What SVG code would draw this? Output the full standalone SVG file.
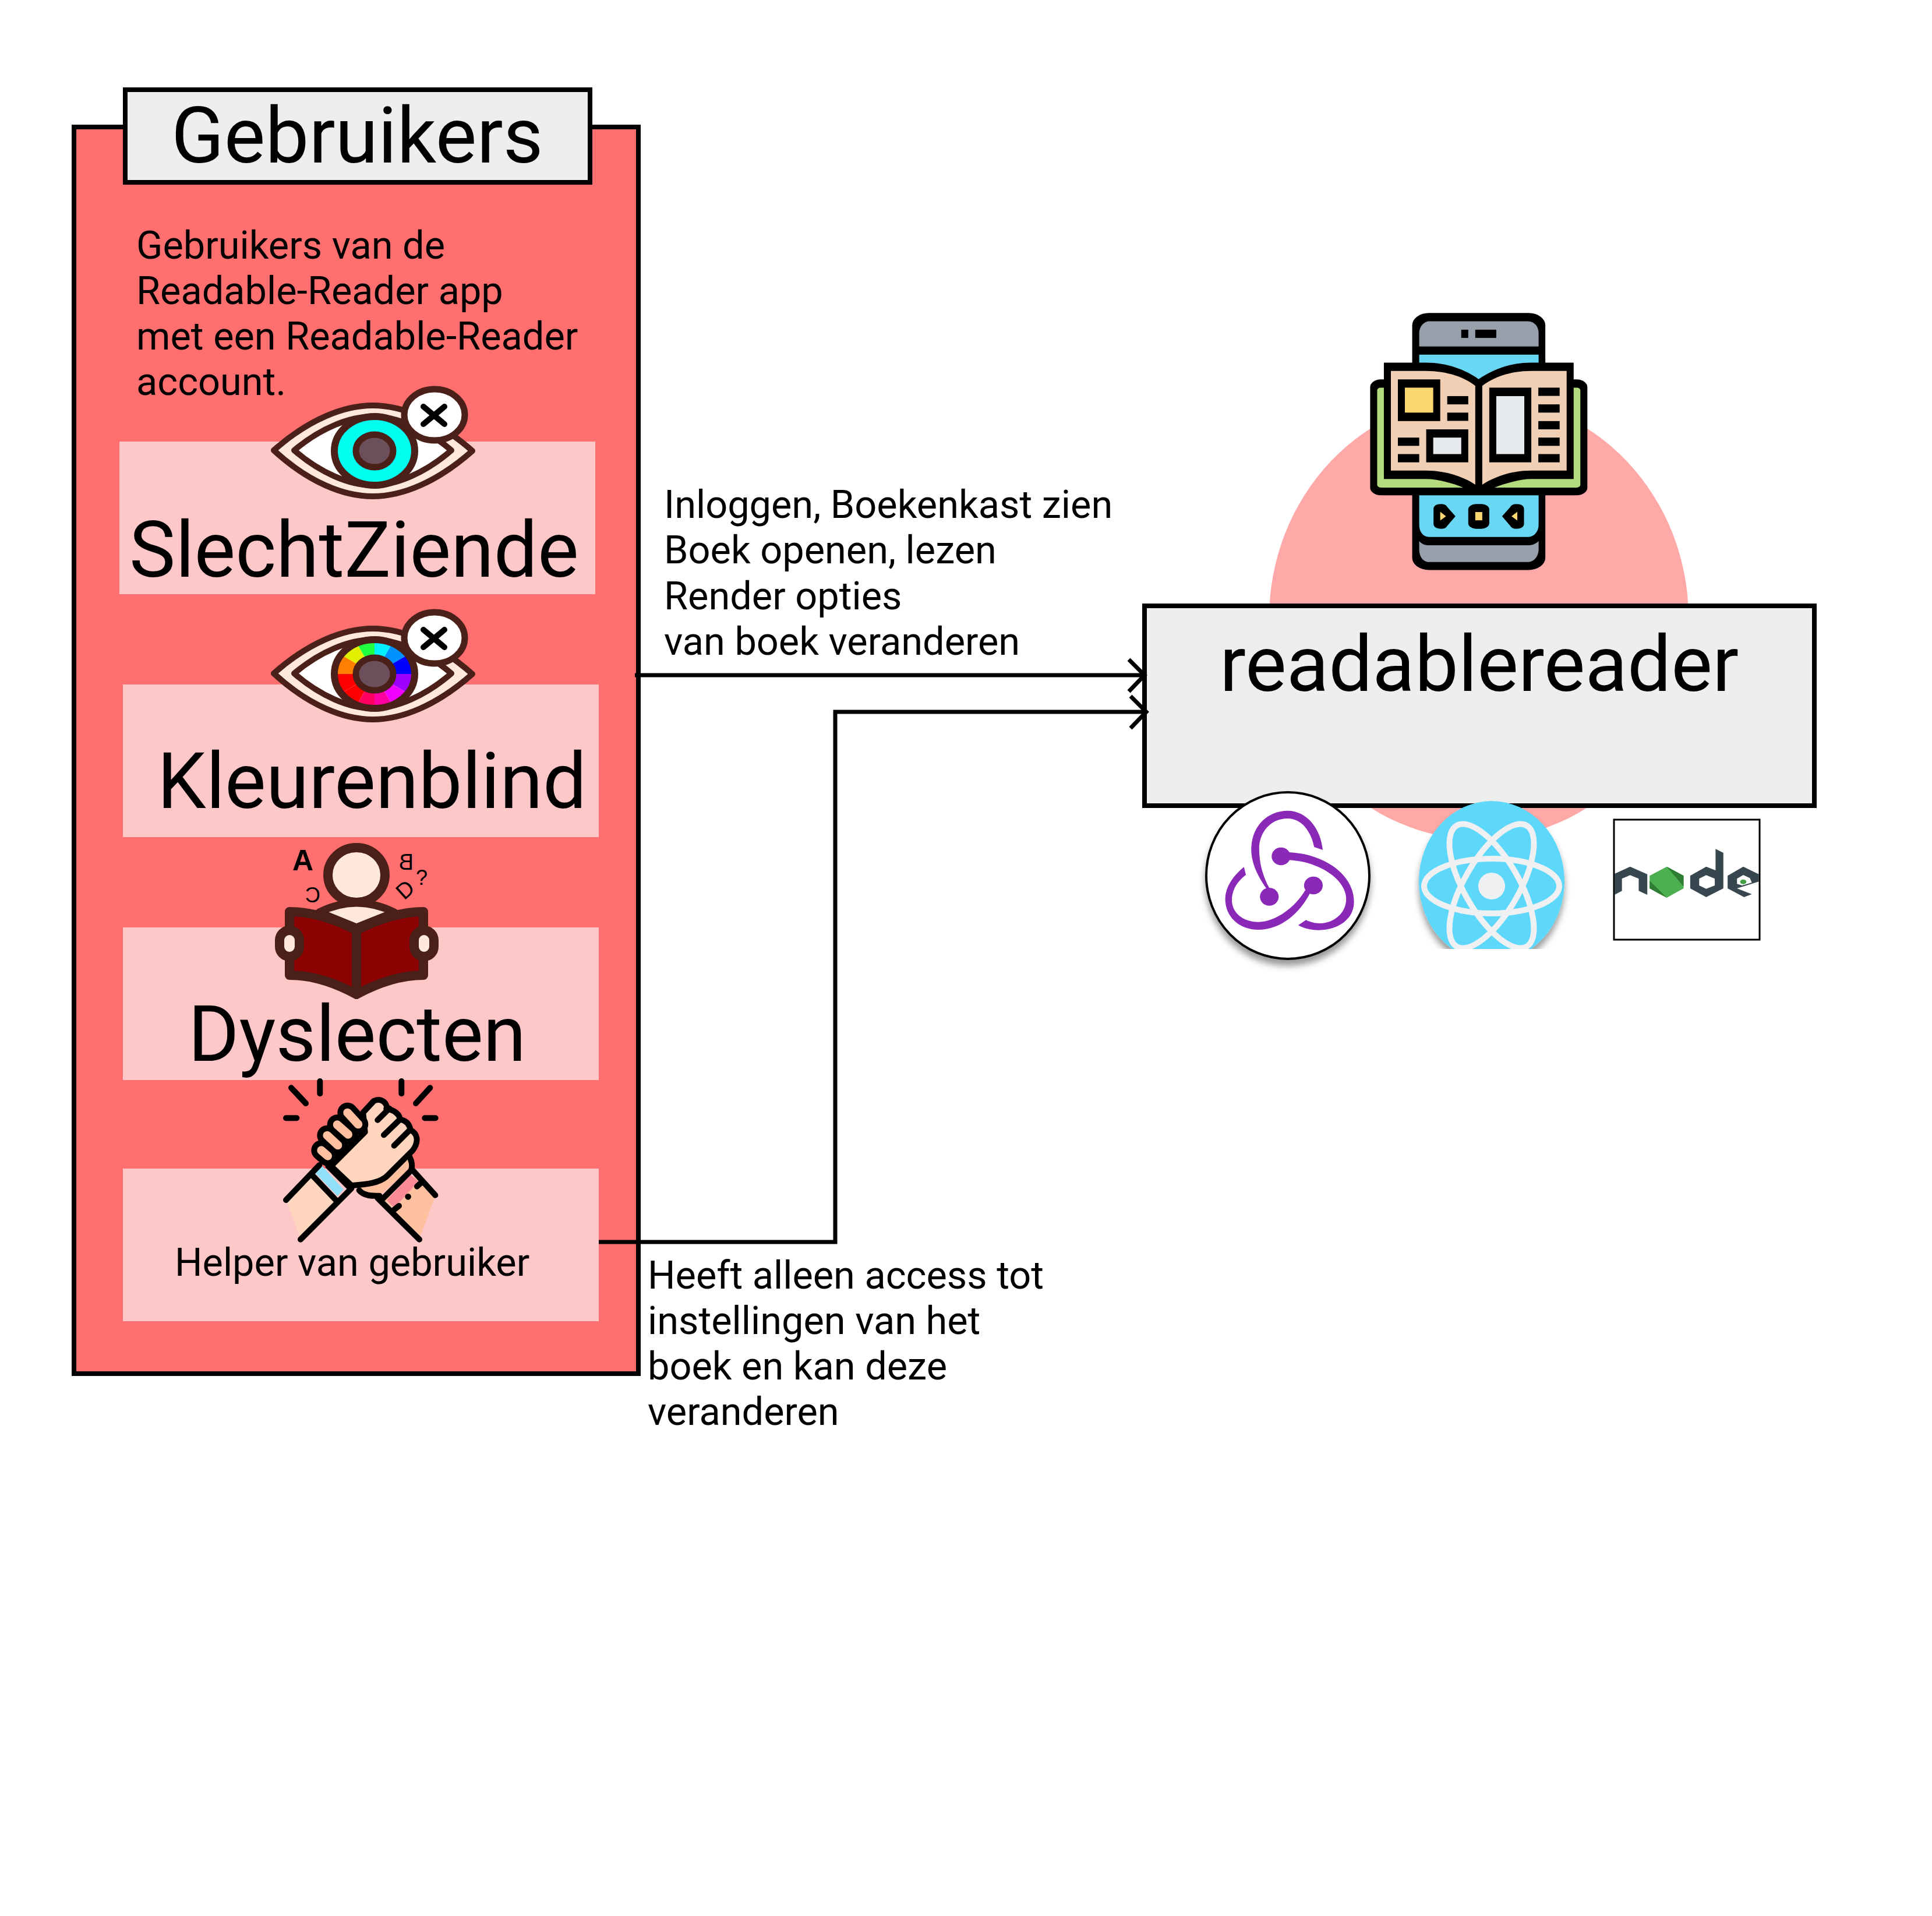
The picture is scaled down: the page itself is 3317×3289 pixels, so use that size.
<svg xmlns="http://www.w3.org/2000/svg" width="3317" height="3289" viewBox="0 0 3317 3289">
<style>
text{font-family:Roboto,"Liberation Sans",sans-serif;fill:#000}
.big{font-size:133.33px}
.body{font-size:66.67px}
.box{stroke:#000;stroke-width:8}
.pink{fill:#ffc8c8}
.conn{fill:none;stroke:#000;stroke-width:7}
.br{stroke:#4a2018;stroke-linejoin:round}
.hs{stroke:#000;stroke-width:30;stroke-linecap:round;stroke-linejoin:round;fill:none}
.k{fill:#000}
.lg{font-family:"Liberation Sans",Arial,sans-serif}
</style>
<defs>
<filter id="sh" x="-20%" y="-20%" width="140%" height="150%"><feDropShadow dx="0" dy="10" stdDeviation="6" flood-color="#000" flood-opacity="0.4"/></filter>
<clipPath id="wheel"><ellipse cx="0" cy="0" rx="69" ry="59"/></clipPath>
<clipPath id="reactClip"><rect x="2400" y="1360" width="320" height="269"/></clipPath>
<g id="eyeBase">
<path class="br" stroke-width="10" fill="#ffe8dc" d="M470,773C530,720 590,696 640,696C690,696 750,720 811,774C750,828 690,852 640,852C590,852 530,828 470,773Z"/>
<path class="br" stroke-width="10" fill="#fff" d="M505,773C550,735 600,715 640,715C680,715 730,735 775,773C730,812 680,833 640,833C600,833 550,812 505,773Z"/>
</g>
<g id="eyeTop">
<ellipse class="br" cx="643" cy="774" rx="69" ry="59" fill="none" stroke-width="12"/>
<ellipse class="br" cx="643" cy="774" rx="32" ry="28" fill="#6b4f5a" stroke-width="11"/>
<ellipse class="br" cx="746" cy="712" rx="52" ry="44" fill="#fff" stroke-width="11"/>
<path d="M727,698L763,728M763,698L727,728" stroke="#000" stroke-width="10" stroke-linecap="round" fill="none"/>
</g>
</defs>
<rect width="3317" height="3289" fill="#fff"/>

<g id="gebruikers">
<rect class="box" x="127" y="218" width="969" height="2140" fill="#ff6f6f"/>
<rect class="box" x="215" y="154" width="798" height="159" fill="#eee"/>
<text class="big" x="294" y="279">Gebruikers</text>
<text class="body" x="234" y="444">Gebruikers van de</text>
<text class="body" x="234" y="522">Readable-Reader app</text>
<text class="body" x="234" y="600">met een Readable-Reader</text>
<text class="body" x="234" y="678">account.</text>
</g>

<g id="slechtziende">
<rect class="pink" x="205" y="758" width="817" height="262"/>
<text class="big" x="222" y="990">SlechtZiende</text>
<use href="#eyeBase"/>
<ellipse cx="643" cy="774" rx="69" ry="59" fill="#00ffee"/>
<use href="#eyeTop"/>
</g>

<g id="kleurenblind">
<rect class="pink" x="211" y="1175" width="817" height="262"/>
<text class="big" x="270" y="1387">Kleurenblind</text>
<use href="#eyeBase" y="383"/>
<g transform="translate(643,1157)" clip-path="url(#wheel)">
<polygon points="0,0 0,-100 50,-87" fill="#00f0ff"/>
<polygon points="0,0 50,-87 87,-50" fill="#0090ff"/>
<polygon points="0,0 87,-50 100,0" fill="#0000ff"/>
<polygon points="0,0 100,0 87,50" fill="#a000ff"/>
<polygon points="0,0 87,50 50,87" fill="#f000ff"/>
<polygon points="0,0 50,87 0,100" fill="#ff00a0"/>
<polygon points="0,0 0,100 -50,87" fill="#ff0060"/>
<polygon points="0,0 -50,87 -87,50" fill="#ff0000"/>
<polygon points="0,0 -87,50 -100,0" fill="#ff0000"/>
<polygon points="0,0 -100,0 -87,-50" fill="#ff8000"/>
<polygon points="0,0 -87,-50 -50,-87" fill="#e0f000"/>
<polygon points="0,0 -50,-87 0,-100" fill="#20ff40"/>
</g>
<use href="#eyeTop" y="383"/>
</g>

<g id="dyslecten">
<rect class="pink" x="211" y="1592" width="817" height="262"/>
<text class="big" x="323" y="1821">Dyslecten</text>
<ellipse class="br" cx="612" cy="1502" rx="49" ry="47" fill="#ffe8dc" stroke-width="16"/>
<path class="br" stroke-width="13" fill="#ffe8dc" d="M548,1566Q612,1534 677,1566L612,1592Z"/>
<path class="br" stroke-width="16" fill="#8b0000" d="M612,1597C575,1578 535,1565 497,1565L497,1674C535,1674 575,1687 612,1707Z"/>
<path class="br" stroke-width="16" fill="#8b0000" d="M612,1597C649,1578 689,1565 727,1565L727,1674C689,1674 649,1687 612,1707Z"/>
<rect class="br" x="480" y="1597" width="34" height="45" rx="17" fill="#ffe8dc" stroke-width="16"/>
<rect class="br" x="711" y="1597" width="34" height="45" rx="17" fill="#ffe8dc" stroke-width="16"/>
<text class="lg" x="502" y="1494" font-size="50" font-weight="bold">A</text>
<text class="lg" transform="translate(710,1493) scale(-1,1)" font-size="38">B</text>
<text class="lg" transform="translate(550,1549) scale(-1,1)" font-size="36">C</text>
<text class="lg" transform="translate(694,1546) rotate(-42)" font-size="38">D</text>
<text class="lg" x="714" y="1519" font-size="36">?</text>
</g>

<g id="helper">
<rect class="pink" x="211" y="2006" width="817" height="262"/>
<g transform="translate(460,1860) scale(0.3333)">
<path fill="#ffd5bd" d="M95,600L240,465L345,600L165,790Z"/>
<path fill="#ffc09f" d="M760,470L858,590L785,785L600,600Z"/>
<path fill="#ffc09f" d="M470,540C495,580 540,580 575,578L730,440L725,370L600,480Z"/>
<path fill="#8fe0f8" d="M280,425L390,545L358,580L245,462Z"/>
<path fill="#fa8a96" d="M735,470L775,505L650,640L612,600Z"/>
<path class="hs" d="M470,550C495,580 540,580 575,578M720,360C745,400 745,425 738,445"/>
<path class="hs" style="fill:#ffd5bd" d="M325,425L500,250L490,150L545,90C590,70 620,110 610,130C650,135 680,160 680,185C715,190 730,215 735,240C770,255 780,300 745,345L620,470C580,515 500,520 430,525Z"/>
<path class="hs" d="M565,188L625,128M597,265L680,185M650,320L730,240"/>
<path d="M275,344L308,373M305,267L360,318M357,212L413,262M410,150L465,210" stroke="#000" stroke-width="104" stroke-linecap="round" fill="none"/>
<path d="M275,344L308,373M305,267L360,318M357,212L413,262M410,150L465,210" stroke="#ffc09f" stroke-width="44" stroke-linecap="round" fill="none"/>
<path class="hs" d="M93,600L265,420M168,803L430,540M228,472L350,600M310,425L415,530"/>
<path class="hs" d="M862,575L740,440M780,803L565,590M590,595L735,450M650,650L675,630M768,530L790,510"/>
<circle cx="722" cy="583" r="16" class="k"/>
<path class="hs" d="M120,22L195,102M268,-12L268,52M688,-12L688,52M835,22L762,102M93,178L148,178M808,178L863,178"/>
</g>
<text class="body" x="300" y="2190">Helper van gebruiker</text>
</g>

<g id="readablereader">
<ellipse cx="2539" cy="1061" rx="360" ry="380" fill="#ffa8a8"/>
<rect class="box" x="1965" y="1040" width="1150" height="343" fill="#eee"/>
<text class="big" x="2094" y="1186">readablereader</text>
<g id="phone" transform="translate(2150,520) scale(0.523,0.3827)">
<rect class="k" x="525" y="45" width="437" height="1153" rx="55"/>
<path fill="#969faa" d="M548,195L548,135C548,105 565,82 580,82L905,82C925,82 940,105 940,135L940,195Z"/>
<rect class="k" x="686" y="120" width="23" height="37"/>
<rect class="k" x="732" y="120" width="69" height="37"/>
<rect fill="#69d6f4" x="548" y="232" width="392" height="140"/>
<path fill="#69d6f4" d="M548,862L940,862L940,995C940,1025 925,1050 905,1050L580,1050C560,1050 548,1025 548,995Z"/>
<path fill="#969faa" d="M548,1068C555,1080 565,1087 580,1087L905,1087C920,1087 932,1080 940,1068L940,1105C940,1135 925,1162 905,1162L580,1162C560,1162 548,1135 548,1105Z"/>
<rect class="k" x="387" y="343" width="713" height="520" rx="35"/>
<rect fill="#b4dc7f" x="410" y="380" width="667" height="448" rx="12"/>
<path class="k" d="M432,268L570,268C640,268 700,300 743,342C790,300 845,268 915,268L1055,268L1055,790L915,790C880,790 830,810 795,828L692,828C660,810 610,790 570,790L432,790Z"/>
<path fill="#f0cfb4" d="M455,305L570,305C640,305 700,335 732,372L732,815C700,785 640,752 570,752L455,752Z"/>
<path fill="#f0cfb4" d="M1032,305L915,305C845,305 790,335 755,372L755,815C790,785 845,752 915,752L1032,752Z"/>
<rect class="k" x="478" y="343" width="139" height="187"/>
<rect fill="#fcd770" x="501" y="380" width="93" height="112"/>
<rect class="k" x="640" y="418" width="69" height="37"/>
<rect class="k" x="640" y="492" width="69" height="37"/>
<rect class="k" x="478" y="604" width="70" height="37"/>
<rect class="k" x="478" y="678" width="70" height="37"/>
<rect class="k" x="571" y="567" width="138" height="148"/>
<rect fill="#e6e9ee" x="594" y="604" width="92" height="74"/>
<rect class="k" x="778" y="380" width="138" height="335"/>
<rect fill="#e6e9ee" x="801" y="418" width="92" height="260"/>
<rect class="k" x="939" y="380" width="70" height="37"/>
<rect class="k" x="939" y="455" width="70" height="37"/>
<rect class="k" x="939" y="530" width="70" height="37"/>
<rect class="k" x="939" y="604" width="70" height="37"/>
<rect class="k" x="939" y="678" width="70" height="37"/>
<path class="k" d="M595,925Q595,902 620,902Q635,902 640,915L667,957L640,1000Q635,1013 620,1013Q595,1013 595,990Z"/>
<polygon fill="#fcd770" points="617,937 636,957 617,976"/>
<rect class="k" x="709" y="902" width="69" height="111" rx="25"/>
<rect fill="#fcd770" x="732" y="938" width="23" height="37"/>
<path class="k" d="M892,925Q892,902 867,902Q852,902 847,915L820,957L847,1000Q852,1013 867,1013Q892,1013 892,990Z"/>
<polygon fill="#fcd770" points="870,937 851,957 870,976"/>
</g>
</g>

<g id="redux">
<ellipse cx="2211" cy="1503" rx="140" ry="143" fill="#fff" stroke="#000" stroke-width="4" filter="url(#sh)"/>
<g transform="translate(2050,1340) scale(0.6697,0.3333)" fill="#8a28b8">
<path d="M187,560C155,470 145,400 147,340C150,230 190,155 240,155C290,155 325,250 330,357L308,342C300,260 275,195 240,195C195,195 167,270 167,350C167,420 175,490 195,560Z"/>
<ellipse cx="193" cy="598" rx="24" ry="46"/>
<path d="M230,368C330,368 410,480 410,625C410,720 365,770 320,770C300,770 283,762 267,745L287,718C300,730 310,735 322,735C360,735 390,680 390,610C390,510 320,408 230,408Z"/>
<ellipse cx="223" cy="390" rx="24" ry="46"/>
<path d="M300,570C270,690 220,768 165,768C115,768 80,700 80,610C80,550 100,490 128,445L133,485C110,520 97,565 97,615C97,680 125,728 165,728C210,728 260,650 285,565Z"/>
<ellipse cx="306" cy="540" rx="24" ry="46"/>
</g>
</g>

<g id="react" clip-path="url(#reactClip)">
<ellipse cx="2561" cy="1513" rx="125" ry="138" fill="#5dd8fb" filter="url(#sh)"/>
<g fill="none" stroke="#eff0f2" stroke-width="10">
<ellipse cx="2561" cy="1521" rx="116" ry="47"/>
<ellipse cx="2561" cy="1521" rx="120" ry="47" transform="rotate(60 2561 1521)"/>
<ellipse cx="2561" cy="1521" rx="120" ry="47" transform="rotate(-60 2561 1521)"/>
</g>
<circle cx="2561" cy="1521" r="23" fill="#eff0f2"/>
</g>

<g id="node">
<rect x="2771" y="1407" width="250" height="206" fill="#fff" stroke="#000" stroke-width="3"/>
<g transform="translate(2050,1340) scale(0.6697,0.3333)" fill="#37474f">
<polygon points="1078,480 1118,443 1162,482 1162,588 1140,568 1140,505 1118,487 1097,505 1097,568 1078,588"/>
<polygon fill="#4caf50" points="1212,443 1255,490 1255,555 1212,603 1168,555 1168,490"/>
<polygon fill="#2e7d32" points="1212,443 1255,490 1255,545"/>
<polygon fill="#2e7d32" points="1168,515 1212,603 1190,580 1168,555"/>
<path fill-rule="evenodd" d="M1337,352L1357,372L1357,555L1313,600L1272,555L1272,490L1313,443L1337,462ZM1313,487L1295,505L1295,540L1313,557L1335,540L1335,505Z"/>
<path fill-rule="evenodd" d="M1408,443L1448,482L1448,520L1392,555L1430,585L1410,600L1368,555L1368,490ZM1408,486L1392,505L1392,532L1405,540L1430,525L1425,502Z"/>
<ellipse fill="#43a047" cx="1408" cy="521" rx="8" ry="12"/>
</g>
</g>

<g id="labels">
<text class="body" x="1140" y="889">Inloggen, Boekenkast zien</text>
<text class="body" x="1140" y="967">Boek openen, lezen</text>
<text class="body" x="1140" y="1046">Render opties</text>
<text class="body" x="1140" y="1124">van boek veranderen</text>
<text class="body" x="1112" y="2212">Heeft alleen access tot</text>
<text class="body" x="1112" y="2290">instellingen van het</text>
<text class="body" x="1112" y="2368">boek en kan deze</text>
<text class="body" x="1112" y="2446">veranderen</text>
</g>

<g id="connectors">
<path class="conn" d="M1090,1159L1965,1159M1938,1132L1965,1159L1938,1187"/>
<path class="conn" d="M1028,2132L1434,2132L1434,1222L1968,1222M1941,1195L1968,1222L1941,1250"/>
</g>
</svg>
